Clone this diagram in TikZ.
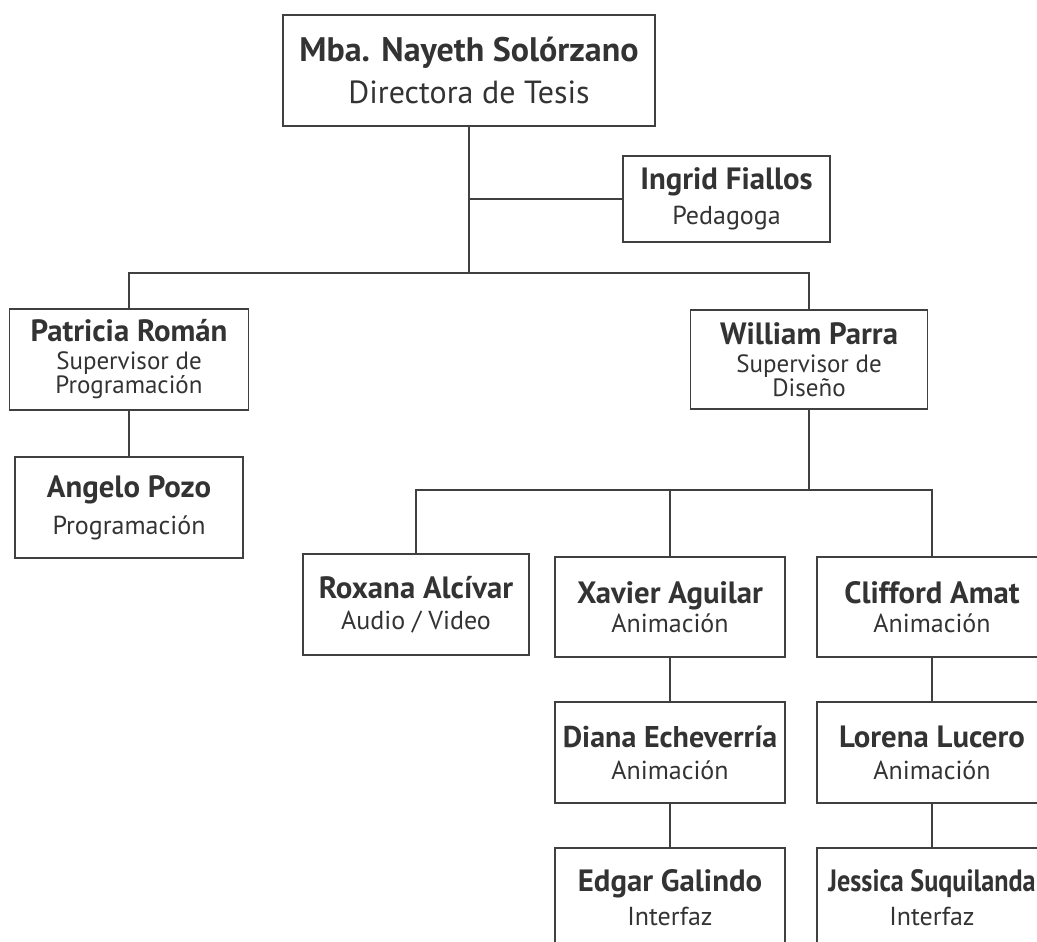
\documentclass[tikz,border=0pt]{standalone}
\usepackage{fontspec}
\setmainfont{PT Sans}
\usepackage{tikz}
\usepackage{graphicx}
\newcommand\apretado{\lineskiplimit=-20pt\relax}

\begin{document}
\begin{tikzpicture}[x=0.5pt,y=-0.5pt]

	\tikzset{caja/.style={draw=black!75,line width=0.9pt,inner sep=0pt,align=center,
			text=black!80,font=\fontsize{13}{12.5}\selectfont\apretado},
		linea/.style={draw=black!75,line width=0.9pt}}
	\useasboundingbox (0,0) rectangle (1037,941);
	\node[caja,minimum width=186pt,minimum height=55.5pt] (dir) at (469,70.5)
		{{\fontsize{17}{14}\selectfont\bfseries Mba. Nayeth Solórzano}\\[8.5pt]{\fontsize{16}{14}\selectfont Directora de Tesis}};
	\node[caja,minimum width=103.5pt,minimum height=43pt] (ped) at (726.5,199)
		{{\fontsize{15.4}{11}\selectfont\bfseries Ingrid Fiallos}\\[5pt]Pedagoga};
	\node[caja,minimum width=119.5pt,minimum height=50.5pt,font=\fontsize{12.5}{12}\selectfont\apretado] (sprog) at (129,359.5)
		{{\fontsize{15.4}{11}\selectfont\bfseries Patricia Román}\\[2pt]Supervisor de\\Programación};
	\node[caja,minimum width=118.5pt,minimum height=49.5pt,font=\fontsize{12.5}{12}\selectfont\apretado] (sdis) at (809,359.5)
		{{\fontsize{15.4}{11}\selectfont\bfseries William Parra}\\[2pt]Supervisor de\\Diseño};
	\node[caja,minimum width=114pt,minimum height=50.5pt] (prog) at (129,507.5)
		{{\fontsize{15.4}{11}\selectfont\bfseries Angelo Pozo}\\[6pt]Programación};
	\node[caja,minimum width=113pt,minimum height=50.5pt] (av) at (416,604.5)
		{{\fontsize{15.4}{11}\selectfont\bfseries Roxana Alcívar}\\[3pt]Audio / Video};
	\node[caja,minimum width=115pt,minimum height=50pt] (anim1) at (670,607)
		{{\fontsize{15.4}{11}\selectfont\bfseries Xavier Aguilar}\\[2pt]Animación};
	\node[caja,minimum width=115pt,minimum height=50pt] (anim2) at (932,607)
		{{\fontsize{15.4}{11}\selectfont\bfseries Clifford Amat}\\[2pt]Animación};
	\node[caja,minimum width=115pt,minimum height=50.5pt] (di) at (670,752.5)
		{{\fontsize{15}{11}\selectfont\bfseries Diana Echeverría}\\[3.5pt]Animación};
	\node[caja,minimum width=115pt,minimum height=50.5pt] (lor) at (932,752.5)
		{{\fontsize{15.4}{11}\selectfont\bfseries Lorena Lucero}\\[3.5pt]Animación};
	\node[caja,minimum width=115pt,minimum height=50pt] (ed) at (670,898)
		{{\fontsize{15.4}{11}\selectfont\bfseries Edgar Galindo}\\[4.5pt]Interfaz};
	\node[caja,minimum width=115pt,minimum height=50pt] (jes) at (932,898)
		{{\fontsize{15.4}{11}\selectfont\bfseries\scalebox{0.85}[1]{Jessica Suquilanda}}\\[4.5pt]Interfaz};

	\coordinate (bus1) at (0,273);
	\coordinate (bus2) at (0,490);
	\draw[linea] (dir.south) -- (dir.south |- bus1);
	\draw[linea] (dir.south |- ped.west) -- (ped.west);
	\draw[linea] (sprog.north) -- (sprog.north |- bus1) -- (sdis.north |- bus1) -- (sdis.north);
	\draw[linea] (sprog.south) -- (prog.north);
	\draw[linea] (sdis.south) -- (sdis.south |- bus2);
	\draw[linea] (av.north) -- (av.north |- bus2) -- (anim2.north |- bus2) -- (anim2.north);
	\draw[linea] (anim1.north) -- (anim1.north |- bus2);
	\draw[linea] (anim1.south) -- (di.north);
	\draw[linea] (di.south) -- (ed.north);
	\draw[linea] (anim2.south) -- (lor.north);
	\draw[linea] (lor.south) -- (jes.north);

\end{tikzpicture}
\end{document}
